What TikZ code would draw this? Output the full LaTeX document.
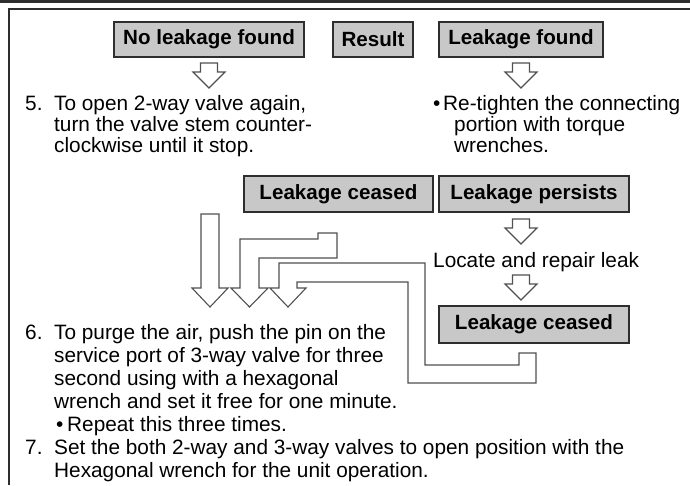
\documentclass[tikz,border=0pt]{standalone}
\usepackage{fontspec}
\setmainfont{Liberation Sans}
\definecolor{boxfill}{HTML}{C8C8C8}
\definecolor{edge}{HTML}{2E2E2E}
\definecolor{arrowedge}{HTML}{505050}
\newcommand\hollowdown[3]{% #1 centre x, #2 top y, #3 tip y
  \draw[hollow] (#1-8.5,#2) -- (#1+8.5,#2) -- (#1+8.5,#3-16) -- (#1+16,#3-16) -- (#1,#3)
    -- (#1-16,#3-16) -- (#1-8.5,#3-16) -- cycle;}
\begin{document}
\begin{tikzpicture}[x=1pt,y=-1pt,
  box/.style={draw=edge, line width=1.5pt, fill=boxfill, inner sep=0pt,
    font=\bfseries\fontsize{20.6}{24}\selectfont},
  txt/.style={anchor=base west, inner sep=0pt, font=\fontsize{20.8}{24}\selectfont},
  hollow/.style={draw=arrowedge, line width=1.1pt, fill=white, line join=miter}]
\useasboundingbox (0,0) rectangle (690,485);
% frame
\draw[edge, line width=3pt] (0,1.5) -- (690,1.5);
\draw[edge, line width=1.3pt] (690,9) -- (9,9) -- (9,485);
% boxes
\node[box, minimum width=190pt, minimum height=35pt] (noleak) at (209,39.5) {No leakage found};
\node[box, minimum width=80pt, minimum height=35pt] (result) at (373,39.5) {Result};
\node[box, minimum width=164pt, minimum height=35pt] (found) at (521,39.5) {Leakage found};
\node[box, minimum width=189pt, minimum height=36pt] (ceased) at (338.5,194) {Leakage ceased};
\node[box, minimum width=190pt, minimum height=36pt] (persists) at (534,194) {Leakage persists};
\node[box, minimum width=190pt, minimum height=37pt] (ceasedb) at (534,324.5) {Leakage ceased};
% small hollow arrows
\hollowdown{209}{63}{88}
\hollowdown{521}{63}{88}
\hollowdown{521}{219}{244}
\hollowdown{521}{275}{300}
% big arrows
\draw[hollow] (201,214) -- (219,214) -- (219,288) -- (228,288) -- (210,307) -- (192,288) -- (201,288) -- cycle;
\draw[hollow] (240,288) -- (240,239) -- (318,239) -- (318,233) -- (337,233) -- (337,258) -- (259,258)
  -- (259,288) -- (268,288) -- (249.5,307) -- (231,288) -- cycle;
\draw[hollow] (279,288) -- (279,263) -- (425,263) -- (425,365) -- (519,365) -- (519,353) -- (536,353)
  -- (536,383) -- (408,383) -- (408,282) -- (297,282) -- (297,288) -- (306,288) -- (288,307) -- (270,288) -- cycle;
% texts
\node[txt] (n5) at (25,110) {5.};
\node[txt] (t5a) at (54,110) {To open 2-way valve again,};
\node[txt] (t5b) at (54,131) {turn the valve stem counter-};
\node[txt] (t5c) at (54,152) {clockwise until it stop.};
\node[txt] (b1) at (433,110) {•};
\node[txt] (r1) at (443,110) {Re-tighten the connecting};
\node[txt] (r2) at (454,131) {portion with torque};
\node[txt] (r3) at (454,152) {wrenches.};
\node[txt] (loc) at (433,267) {Locate and repair leak};
\node[txt] (n6) at (25,339) {6.};
\node[txt] (t6a) at (54,339) {To purge the air, push the pin on the};
\node[txt] (t6b) at (54,362) {service port of 3-way valve for three};
\node[txt] (t6c) at (54,385) {second using with a hexagonal};
\node[txt] (t6d) at (54,408) {wrench and set it free for one minute.};
\node[txt] (b2) at (56,431) {•};
\node[txt] (t6e) at (67,431) {Repeat this three times.};
\node[txt] (n7) at (25,454) {7.};
\node[txt] (t7a) at (54,454) {Set the both 2-way and 3-way valves to open position with the};
\node[txt] (t7b) at (54,477) {Hexagonal wrench for the unit operation.};
\end{tikzpicture}
\end{document}
